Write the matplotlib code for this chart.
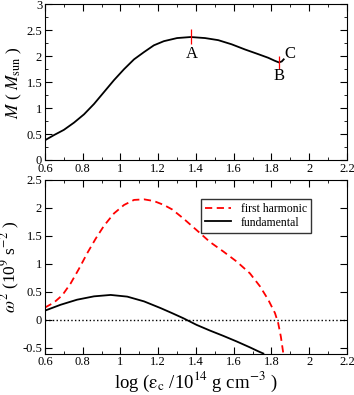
import matplotlib
matplotlib.use("Agg")
import matplotlib.pyplot as plt
from matplotlib.ticker import MultipleLocator

plt.rcParams['font.family'] = ['Liberation Serif', 'DejaVu Serif']
plt.rcParams['mathtext.fontset'] = 'stix'

# top panel: mass vs log central density
logeps_m = [0.6, 0.648, 0.70, 0.754, 0.807, 0.86, 0.913, 0.966, 1.019, 1.072,
            1.125, 1.177, 1.23, 1.30, 1.372, 1.448, 1.518, 1.589, 1.66, 1.73,
            1.783, 1.819, 1.84, 1.855, 1.865]
mass = [0.38, 0.48, 0.58, 0.72, 0.88, 1.08, 1.31, 1.54, 1.75, 1.94,
        2.08, 2.21, 2.29, 2.35, 2.37, 2.35, 2.31, 2.23, 2.13, 2.04,
        1.97, 1.91, 1.88, 1.90, 1.94]

# marked points A, B and end point C
mark_x = [1.373, 1.838]
mark_lo = [2.23, 1.76]
mark_hi = [2.52, 2.0]
labels = ["A", "B", "C"]
label_x = [1.38, 1.84, 1.90]
label_y = [2.05, 1.62, 2.05]

# bottom panel: squared frequencies
logeps_h = [0.6, 0.648, 0.692, 0.736, 0.78, 0.824, 0.869, 0.913, 0.966, 1.019,
            1.072, 1.125, 1.177, 1.23, 1.274, 1.333, 1.404, 1.474, 1.545, 1.616,
            1.686, 1.739, 1.783, 1.819, 1.836, 1.85, 1.863]
harm1 = [0.22, 0.31, 0.44, 0.65, 0.91, 1.19, 1.45, 1.68, 1.90, 2.05,
         2.14, 2.15, 2.12, 2.05, 1.97, 1.81, 1.60, 1.39, 1.22, 1.04,
         0.83, 0.60, 0.36, 0.12, -0.06, -0.30, -0.6]
logeps_f = [0.6, 0.683, 0.77, 0.86, 0.948, 1.036, 1.125, 1.213, 1.274, 1.333,
            1.404, 1.474, 1.545, 1.616, 1.686, 1.73, 1.757]
fund = [0.165, 0.27, 0.36, 0.42, 0.445, 0.415, 0.33, 0.21, 0.12, 0.03,
        -0.09, -0.19, -0.285, -0.385, -0.49, -0.56, -0.6]

xticks = [0.6, 0.8, 1.0, 1.2, 1.4, 1.6, 1.8, 2.0, 2.2]
xtick_labels = ["0.6", "0.8", "1", "1.2", "1.4", "1.6", "1.8", "2", "2.2"]

fig = plt.figure(figsize=(3.54, 3.95), dpi=100)
ax1 = fig.add_axes([0.127, 0.595, 0.853, 0.394])
ax2 = fig.add_axes([0.127, 0.105, 0.853, 0.44])

ax1.plot(logeps_m, mass, c="black", lw=1.3)
ax1.vlines(mark_x, mark_lo, mark_hi, colors="red", lw=0.9)
for t, x, y in zip(labels, label_x, label_y):
    ax1.text(x, y, t, ha="center", va="center", fontsize=12)
ax1.set_xlim(0.6, 2.2)
ax1.set_ylim(0, 3)
ax1.set_xticks(xticks)
ax1.set_xticklabels(xtick_labels)
ax1.xaxis.set_minor_locator(MultipleLocator(0.1))
ax1.set_yticks([0, 0.5, 1, 1.5, 2, 2.5, 3])
ax1.set_yticklabels(["0", "0.5", "1", "1.5", "2", "2.5", "3"])
ax1.yaxis.set_minor_locator(MultipleLocator(0.25))
ax1.set_ylabel(r"$M$ ( $M_{\rm sun}$ )", fontsize=12.5, labelpad=2)

ax2.plot(logeps_h, harm1, c="red", ls=(0, (4, 2.5)), lw=1.3, label="first harmonic")
ax2.plot(logeps_f, fund, c="black", lw=1.3, label="fundamental")
ax2.axhline(0, c="black", ls=":", lw=1.0)
ax2.set_xlim(0.6, 2.2)
ax2.set_ylim(-0.6, 2.5)
ax2.set_xticks(xticks)
ax2.set_xticklabels(xtick_labels)
ax2.xaxis.set_minor_locator(MultipleLocator(0.1))
ax2.set_yticks([-0.5, 0, 0.5, 1, 1.5, 2, 2.5])
ax2.set_yticklabels(["-0.5", "0", "0.5", "1", "1.5", "2", "2.5"])
ax2.set_xlabel(r"log ($\mathrm{\epsilon_c}$ /10$^{14}$ g cm$^{-3}$ )", fontsize=13.5, labelpad=1)
ax2.set_ylabel(r"$\omega^2$ (10$^9$ s$^{-2}$ )", fontsize=12.5, labelpad=0)
leg = ax2.legend(loc="upper right", bbox_to_anchor=(0.9, 0.925), fontsize=8.5,
                 frameon=True, fancybox=False, edgecolor="black",
                 handlelength=2.2, borderpad=0.35, labelspacing=0.15)
leg.get_frame().set_linewidth(1.0)

for ax in (ax1, ax2):
    ax.tick_params(which="both", direction="in", top=True, right=True,
                   labelsize=9, pad=2)
    ax.tick_params(which="major", length=5)
    ax.tick_params(which="minor", length=2.5)

fig.savefig("out.png", dpi=100)
